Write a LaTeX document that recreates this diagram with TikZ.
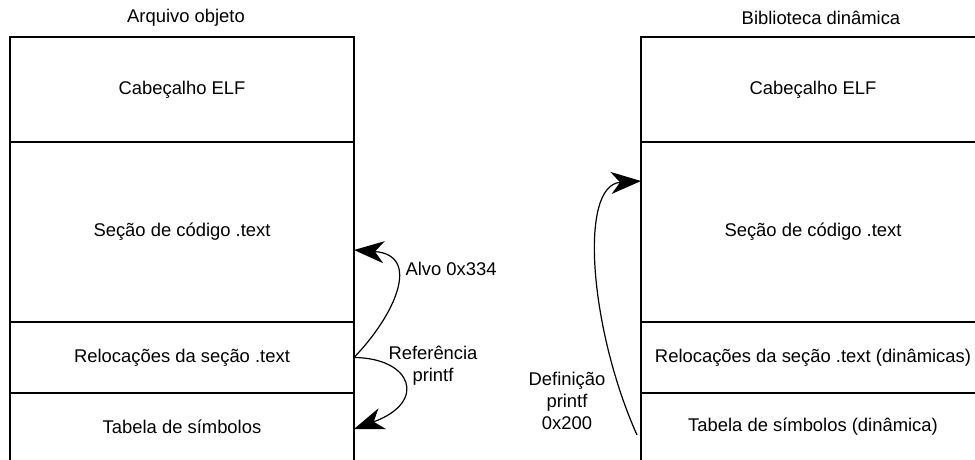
\documentclass[tikz,border=0pt]{standalone}
\usepackage{fontspec}
\setmainfont{Liberation Sans}
\usetikzlibrary{positioning,arrows.meta}

\tikzset{
    section/.style={draw, line width=1.2pt, minimum width=344pt, inner sep=0pt, outer sep=0pt, anchor=north},
    link/.style={line width=1.2pt, arrows={-Stealth[length=30pt, width=22pt, inset=9pt]}}
}

\begin{document}
\begin{tikzpicture}[x=1pt, y=-1pt, every node/.style={font=\fontsize{18.4}{22}\selectfont}]
    \useasboundingbox (0,0) rectangle (975,460);

    % Object file
    \node at (186,18) (objtitle) {Arquivo objeto};
    \node[section, minimum height=105pt] (objhdr) at (182,37) {Cabeçalho ELF};
    \node[section, minimum height=180pt, below=0pt of objhdr] (objtext) {Seção de código .text};
    \node[section, minimum height=71pt, below=0pt of objtext] (objrel) {Relocações da seção .text};
    \node[section, minimum height=68pt, below=0pt of objrel] (objsym) {Tabela de símbolos};

    % Dynamic library
    \node at (821,18) (libtitle) {Biblioteca dinâmica};
    \node[section, minimum height=105pt] (libhdr) at (813,37) {Cabeçalho ELF};
    \node[section, minimum height=180pt, below=0pt of libhdr] (libtext) {Seção de código .text};
    \node[section, minimum height=71pt, below=0pt of libtext] (librel) {Relocações da seção .text (dinâmicas)};
    \node[section, minimum height=68pt, below=0pt of librel] (libsym) {Tabela de símbolos (dinâmica)};

    % Relocation target and reference
    \draw[link] (objrel.east) .. controls (395,315) and (422,255) .. ([yshift=-18pt]objtext.east);
    \draw[link] (objrel.east) .. controls (412,358) and (428,402) .. ([yshift=-2pt]objsym.east);
    \node[anchor=west] (alvo) at (402,269) {Alvo 0x334};
    \node[align=center] (ref) at (433,366) {Referência\\printf};

    % Definition in the library
    \draw[link] ([xshift=-4pt, yshift=-8pt]libsym.west) .. controls (590,330) and (578,185) .. ([yshift=-39pt]libtext.north west);
    \node[align=center] (def) at (567,401) {Definição\\printf\\0x200};
\end{tikzpicture}
\end{document}
